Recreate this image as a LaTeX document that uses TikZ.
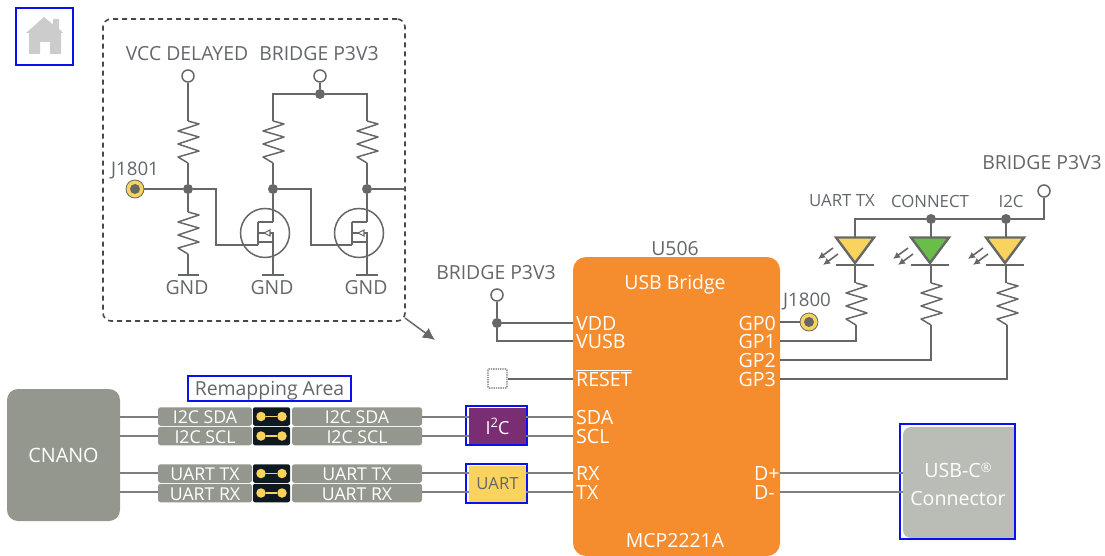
\documentclass[tikz,border=0pt]{standalone}
\usepackage{fontspec}
\setmainfont{Open Sans}
\usetikzlibrary{arrows.meta}
\definecolor{wirec}{HTML}{666866}
\definecolor{txtc}{HTML}{63666A}
\definecolor{orangec}{HTML}{F58C2D}
\definecolor{grayc}{HTML}{93978D}
\definecolor{usbc}{HTML}{B9BDB6}
\definecolor{purplec}{HTML}{7B2D73}
\definecolor{yellowc}{HTML}{FAD35E}
\definecolor{greenc}{HTML}{69BE4A}
\definecolor{blackc}{HTML}{0F1A20}
\definecolor{bluec}{HTML}{0A10F0}
\definecolor{homec}{HTML}{CCCCCC}
\tikzset{
  wire/.style={draw=wirec,line width=1.5pt,line join=miter},
  sig/.style={draw=wirec!85,line width=2pt},
  lab/.style={font=\fontsize{19.4}{22}\selectfont,text=txtc,inner sep=0pt,yshift=-1pt},
  slab/.style={font=\fontsize{16.8}{19}\selectfont,text=txtc,inner sep=0pt},
  jlab/.style={font=\fontsize{18.7}{21}\selectfont,text=txtc,inner sep=0pt},
  pinl/.style={font=\fontsize{19.6}{22}\selectfont,text=white,inner sep=0pt,text height=14pt,text depth=0pt},
  rowbox/.style={fill=grayc,rounded corners=2.5pt,draw=none,minimum height=18.5pt,inner sep=0pt,text=white,font=\fontsize{17.7}{19}\selectfont,text height=14.5pt,text depth=0pt},
  jbox/.style={fill=blackc,rounded corners=2pt,minimum width=37pt,minimum height=18.5pt,inner sep=0pt,draw=none},
  jdot/.style={circle,fill=yellowc,minimum size=9.5pt,inner sep=0pt,draw=none},
  jlink/.style={draw=yellowc,line width=1.8pt},
  term/.style={circle,draw=wirec,fill=white,line width=1.5pt,minimum size=12pt,inner sep=0pt},
  junc/.style={circle,fill=wirec,minimum size=10pt,inner sep=0pt,draw=none},
  pad/.style={circle,fill=yellowc,draw=wirec,line width=.8pt,minimum size=18pt,inner sep=0pt},
  padcore/.style={circle,fill=wirec,minimum size=10pt,inner sep=0pt,draw=none},
  blue frame/.style={draw=bluec,line width=2pt,fill=none},
  resistor/.pic={\draw[wire,line join=round] (0,0) -- (11,3) -- (-10,10) -- (11,16) -- (-10,23) -- (11,30) -- (-10,36) -- (0,42);},
  mosfet/.pic={
    \draw[wire] (0,0) circle[radius=24.5];
    \draw[wire] (-7,-11) -- (-7,12);
    \draw[wire] (-7,-11) -- (8,-11);
    \draw[wire] (-7,9) -- (8,9);
    \draw[wire] (-7,0) -- (8,0) -- (8,9);
    \draw[draw=wirec,fill=white,line width=1.1pt] (-1,0) -- (5,-3) -- (5,3) -- cycle;
  },
  ledshape/.style={draw=wirec,line width=2.4pt,line join=miter},
  ledarrow/.style={draw=wirec,line width=1.6pt,-{Latex[length=7pt,width=7pt]}},
}
\newcommand{\ledsym}[2]{%
  \draw[ledshape,fill=#2] (#1-19,237.5) -- (#1+19,237.5) -- (#1,263) -- cycle;
  \draw[draw=wirec,line width=2.4pt] (#1-19,265) -- (#1+19,265);
  \draw[ledarrow] (#1-22,248) -- (#1-37,259);
  \draw[ledarrow] (#1-17,254) -- (#1-32,265);
}
\begin{document}
\begin{tikzpicture}[x=1pt,y=-1pt]
\useasboundingbox (0,0) rectangle (1105,556);
% home
\fill[homec] (44,17) -- (53,24.5) -- (53,19) -- (59,19) -- (59,29) -- (63,33) -- (61,33) -- (61,54) -- (50,54) -- (50,42) -- (40,42) -- (40,54) -- (29,54) -- (29,33) -- (26,33) -- cycle;
\node[blue frame,minimum size=57pt,inner sep=0pt] (home) at (44.5,36.5) {};
% dashed frame
\node[draw=wirec!70!black,dash pattern=on 5pt off 4pt,line width=1.6pt,rounded corners=8pt,minimum width=302pt,minimum height=302pt,inner sep=0pt] (dframe) at (254,170) {};
\coordinate (arrowstart) at (405,318);
\coordinate (arrowend) at (435,340);
\draw[draw=wirec,line width=1.5pt,-{Latex[length=12pt,width=12pt]}] (arrowstart) -- (arrowend);
% labels top circuit
\node[lab] (lvcc) at (187,53) {VCC DELAYED};
\node[lab] (lb1) at (319,53) {BRIDGE P3V3};
\node[term] (t1) at (188,76) {};
\node[term] (t2) at (320,76) {};
\node[junc] (j2) at (320,94) {};
\coordinate (r2top) at (273,121);
\coordinate (r3top) at (367,121);
\draw[wire] (t2) -- (j2);
\draw[wire] (r2top) -- (273,94) -- (j2) -- (367,94) -- (r3top);
\draw[wire] (t1) -- (188,121);
\pic at (188,121) {resistor};
\pic at (273,121) {resistor};
\pic at (367,121) {resistor};
\node[junc] (j3) at (188,189) {};
\node[junc] (j4) at (273,189) {};
\node[junc] (j5) at (367,189) {};
\node[pad] (j1801) at (135,189) {};
\node[padcore] (j1801c) at (135,189) {};
\node[jlab] (lj1801) at (135,170) {J1801};
\draw[wire] (188,163) -- (j3);
\draw[wire] (273,163) -- (j4);
\draw[wire] (367,163) -- (j5);
\draw[wire] (j1801) -- (j3);
\coordinate (frameedge) at (405,189);
\draw[wire] (j5) -- (frameedge);
\draw[wire] (j3) -- (216,189) -- (216,245) -- (258,245);
\draw[wire] (j4) -- (311,189) -- (311,245) -- (352,245);
\draw[wire] (j3) -- (188,212);
\pic at (188,212) {resistor};
\draw[wire] (188,254) -- (188,275);
\pic at (265,233) {mosfet};
\pic at (359,233) {mosfet};
\draw[wire] (j4) -- (273,222);
\draw[wire] (j5) -- (367,222);
\draw[wire] (273,242) -- (273,275);
\draw[wire] (367,242) -- (367,275);
\draw[wire] (178,275) -- (199,275);
\draw[wire] (262,275) -- (284,275);
\draw[wire] (356,275) -- (378,275);
\node[lab] (g1) at (187,287) {GND};
\node[lab] (g2) at (272,287) {GND};
\node[lab] (g3) at (366,287) {GND};
% U506
\node[fill=orangec,rounded corners=13pt,minimum width=207pt,minimum height=299pt,inner sep=0pt] (u) at (676.5,406.5) {};
\node[lab] (u506) at (675,247.5) {U506};
\node[lab,text=white] (ub) at (675,283) {USB Bridge};
\node[lab,text=white] (um) at (675,540) {MCP2221A};
\foreach \n/\t/\y in {vdd/VDD/323,vusb/VUSB/341,sda/SDA/417,scl/SCL/436,rx/RX/473,tx/TX/492}
  \node[pinl,anchor=west] (\n) at (576,\y) {\t};
\node[pinl,anchor=west] (reset) at (576,379) {$\overline{\hbox{RESET}}$};
\foreach \n/\t/\y in {gp0/GP0/323,gp1/GP1/341,gp2/GP2/360,gp3/GP3/379}
  \node[pinl,anchor=east] (\n) at (776,\y) {\t};
\node[pinl,anchor=west] (dp) at (754,473) {D+};
\node[pinl,anchor=west] (dm) at (754,492) {D-};
% left power
\node[lab] (lb2) at (496,272) {BRIDGE P3V3};
\node[term] (t3) at (497,295) {};
\node[junc] (j6) at (497,323) {};
\draw[wire] (t3) -- (j6) -- (u.west |- vdd);
\draw[wire] (j6) -- (497,341) -- (u.west |- vusb);
\node[draw=wirec,densely dotted,line width=1.3pt,minimum size=19pt,inner sep=0pt,rounded corners=1pt] (rst) at (497.5,378.5) {};
\draw[wire] (rst.east |- reset) -- (u.west |- reset);
% J1800
\node[pad] (j1800) at (809,322) {};
\node[padcore] (j1800c) at (809,322) {};
\node[jlab] (lj1800) at (807,301) {J1800};
\draw[wire] (u.east |- j1800) -- (j1800);
% LEDs
\ledsym{855}{yellowc}
\ledsym{930}{greenc}
\ledsym{1005}{yellowc}
\node[term] (t4) at (1044,191) {};
\node[junc] (j7) at (931,219) {};
\node[junc] (j8) at (1006,219) {};
\draw[wire] (t4) -- (1044,219) -- (j8) -- (j7) -- (855,219) -- (855,237);
\draw[wire] (j7) -- (931,237);
\draw[wire] (j8) -- (1006,237);
\node[lab] (lb3) at (1042,162) {BRIDGE P3V3};
\node[slab] (l1) at (842,201) {UART TX};
\node[slab] (l2) at (930,201) {CONNECT};
\node[slab] (l3) at (1011,201) {I2C};
\draw[wire] (855,265) -- (855,283);
\draw[wire] (931,265) -- (931,283);
\draw[wire] (1006,265) -- (1006,283);
\pic at (856,283) {resistor};
\pic at (931,283) {resistor};
\pic at (1007,283) {resistor};
\draw[wire] (u.east |- gp1) -- (856,341) -- (856,325);
\draw[wire] (u.east |- gp2) -- (931,360) -- (931,325);
\draw[wire] (u.east |- gp3) -- (1007,379) -- (1007,325);
% CNANO
\node[fill=grayc,rounded corners=11pt,minimum width=113pt,minimum height=132pt,inner sep=0pt,text=white,font=\fontsize{19.8}{22}\selectfont] (cnano) at (63.5,455) {CNANO};
% remapping
\node[blue frame,fill=white,minimum width=163pt,minimum height=25pt,inner sep=0pt,text=txtc,font=\fontsize{19.4}{22}\selectfont,text height=14.5pt,text depth=0pt] (remap) at (269.5,388.5) {Remapping Area};
% rows
\foreach \n/\t/\y in {a/I2C SDA/416.5,b/I2C SCL/436,c/UART TX/473.5,d/UART RX/493}{
  \node[rowbox,minimum width=94pt] (\n l) at (205,\y) {\t};
  \node[rowbox,minimum width=130pt] (\n r) at (357,\y) {\t};
  \node[jbox] (\n j) at (271.5,\y) {};
  \node[jdot] (\n 1) at (261,\y) {};
  \node[jdot] (\n 2) at (282,\y) {};
  \draw[jlink] (\n 1) -- (\n 2);
}
% bus boxes
\node[fill=purplec,minimum width=57pt,minimum height=36pt,inner sep=0pt,text=white,font=\fontsize{18}{20}\selectfont] (i2c) at (497.5,426) {I\raisebox{7pt}{\fontsize{13}{14}\selectfont 2}C};
\node[fill=yellowc,minimum width=57pt,minimum height=36pt,inner sep=0pt,text=txtc,font=\fontsize{16.7}{19}\selectfont] (uart) at (497.5,483.5) {UART};
\node[blue frame,minimum width=61pt,minimum height=39pt,inner sep=0pt] (i2cf) at (496.5,425.5) {};
\node[blue frame,minimum width=61pt,minimum height=39pt,inner sep=0pt] (uartf) at (496.5,483.5) {};
% wires
\foreach \n/\p in {a/sda,b/scl}{
  \draw[sig] (cnano.east |- \p) -- (\n l.west |- \p);
  \draw[sig] (\n r.east |- \p) -- (i2c.west |- \p);
  \draw[sig] (i2c.east |- \p) -- (u.west |- \p);
}
\foreach \n/\p in {c/rx,d/tx}{
  \draw[sig] (cnano.east |- \p) -- (\n l.west |- \p);
  \draw[sig] (\n r.east |- \p) -- (uart.west |- \p);
  \draw[sig] (uart.east |- \p) -- (u.west |- \p);
}
% USB-C
\node[fill=usbc,minimum width=111pt,minimum height=111pt,inner sep=0pt,rounded corners=8pt,text=white] (usb) at (958.5,482.5) {};
\fill[usbc] (990,427) rectangle (1014,538);
\node[font=\fontsize{19.6}{22}\selectfont,text=white,inner sep=0pt] (usbt1) at (958,470) {USB-C\raisebox{5pt}{\fontsize{13}{14}\selectfont ®}};
\node[font=\fontsize{19.6}{22}\selectfont,text=white,inner sep=0pt] (usbt2) at (958,498) {Connector};
\node[blue frame,minimum width=115pt,minimum height=115pt,inner sep=0pt] (usbf) at (957.5,481.5) {};
\draw[sig] (u.east |- dp) -- (usb.west |- dp);
\draw[sig] (u.east |- dm) -- (usb.west |- dm);
\end{tikzpicture}
\end{document}
